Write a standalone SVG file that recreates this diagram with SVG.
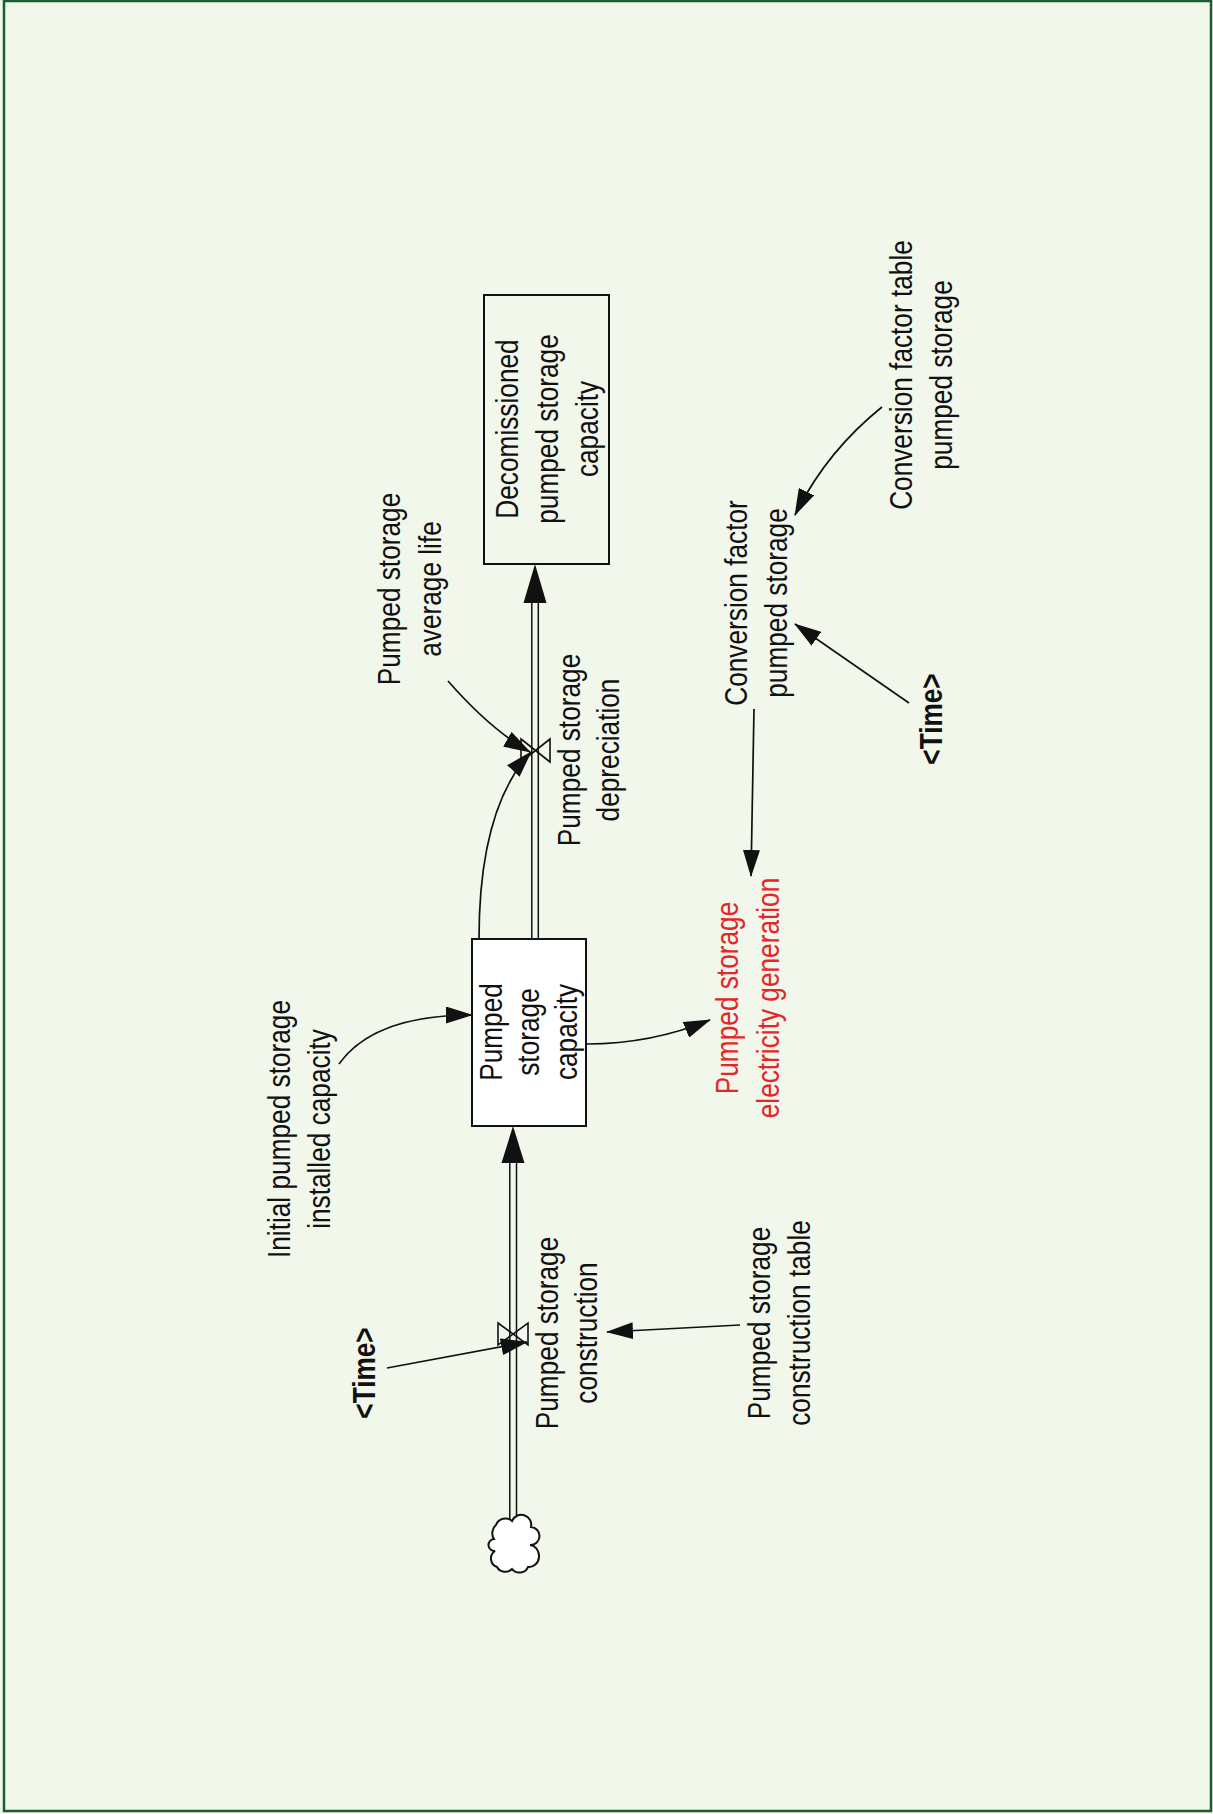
<svg xmlns="http://www.w3.org/2000/svg" width="1213" height="1814" viewBox="0 0 1213 1814">
<defs>
<style>
.t{font-family:"Liberation Sans",Arial,sans-serif;font-size:32px;fill:#111;text-anchor:middle}
.b{font-weight:bold}
.red{fill:#e62626}
.box{stroke:#111;stroke-width:2}
.pipe{stroke:#111;stroke-width:1.5;fill:none}
.valve{stroke:#111;stroke-width:1.6;fill:none}
.link{stroke:#111;stroke-width:1.7;fill:none;marker-end:url(#ah)}
</style>
<marker id="ah" viewBox="0 0 27 17" refX="26" refY="8.5" markerWidth="27" markerHeight="17" markerUnits="userSpaceOnUse" orient="auto">
<path d="M0,0 L27,8.5 L0,17 Z" fill="#111"/>
</marker>
</defs>
<rect x="0" y="0" width="1213" height="1814" fill="#f2f7ec"/>
<rect x="4" y="1" width="1207" height="1810" fill="none" stroke="#1a5e30" stroke-width="2.5"/>

<g id="flows">
<!-- construction pipe -->
<line class="pipe" x1="509.8" y1="1160" x2="509.8" y2="1519"/>
<line class="pipe" x1="516.5" y1="1160" x2="516.5" y2="1519"/>
<polygon points="513,1126 501.5,1163 524.5,1163" fill="#111"/>
<!-- depreciation pipe -->
<line class="pipe" x1="531.8" y1="600" x2="531.8" y2="939"/>
<line class="pipe" x1="538.3" y1="600" x2="538.3" y2="939"/>
<polygon points="535,564 523.5,603 546.5,603" fill="#111"/>
</g>

<g id="cloud">
<path d="M512,1521 A10,10 0 0 1 531,1527 A9,9 0 0 1 530,1545 A10,11 0 0 1 528,1567 A9,8 0 0 1 512,1569 A9,8 0 0 1 497,1567 A9,9 0 0 1 495,1551 A5,5 0 0 1 494,1539 A9,10 0 0 1 496,1525 A10,10 0 0 1 512,1521 Z" fill="#fff" stroke="#111" stroke-width="2"/>
</g>

<g id="decomissioned">
<rect class="box" x="484" y="295" width="125" height="269" fill="none"/>
<g transform="translate(518,429) rotate(-90) scale(0.82,1)">
<text class="t" x="0" y="0">Decomissioned</text>
<text class="t" x="0" y="40">pumped storage</text>
<text class="t" x="0" y="80">capacity</text>
</g>
</g>

<g id="pumped-storage-capacity">
<rect class="box" x="472" y="939" width="114" height="187" fill="#fff"/>
<g transform="translate(502,1032) rotate(-90) scale(0.82,1)">
<text class="t" x="0" y="0">Pumped</text>
<text class="t" x="0" y="37.5">storage</text>
<text class="t" x="0" y="75">capacity</text>
</g>
</g>

<g id="pumped-storage-depreciation">
<polygon class="valve" points="521,739 550,762 550,739 521,762"/>
<g transform="translate(580,750) rotate(-90) scale(0.82,1)">
<text class="t" x="0" y="0">Pumped storage</text>
<text class="t" x="0" y="39">depreciation</text>
</g>
</g>

<g id="pumped-storage-construction">
<polygon class="valve" points="498,1323 528,1345 528,1323 498,1345"/>
<g transform="translate(558,1333) rotate(-90) scale(0.82,1)">
<text class="t" x="0" y="0">Pumped storage</text>
<text class="t" x="0" y="39">construction</text>
</g>
</g>

<g id="average-life">
<g transform="translate(400,589) rotate(-90) scale(0.82,1)">
<text class="t" x="0" y="0">Pumped storage</text>
<text class="t" x="0" y="41">average life</text>
</g>
</g>

<g id="initial-capacity">
<g transform="translate(290,1129) rotate(-90) scale(0.82,1)">
<text class="t" x="0" y="0">Initial pumped storage</text>
<text class="t" x="0" y="40">installed capacity</text>
</g>
</g>

<g id="electricity-generation">
<g transform="translate(738,998) rotate(-90) scale(0.82,1)">
<text class="t red" x="0" y="0">Pumped storage</text>
<text class="t red" x="0" y="41">electricity generation</text>
</g>
</g>

<g id="conversion-factor">
<g transform="translate(747,603) rotate(-90) scale(0.82,1)">
<text class="t" x="0" y="0">Conversion factor</text>
<text class="t" x="0" y="40">pumped storage</text>
</g>
</g>

<g id="conversion-factor-table">
<g transform="translate(912,375) rotate(-90) scale(0.82,1)">
<text class="t" x="0" y="0">Conversion factor table</text>
<text class="t" x="0" y="40">pumped storage</text>
</g>
</g>

<g id="construction-table">
<g transform="translate(770,1323) rotate(-90) scale(0.82,1)">
<text class="t" x="0" y="0">Pumped storage</text>
<text class="t" x="0" y="40">construction table</text>
</g>
</g>

<g id="time-1">
<g transform="translate(942,719) rotate(-90) scale(0.82,1)">
<text class="t b" x="0" y="0">&lt;Time&gt;</text>
</g>
</g>

<g id="time-2">
<g transform="translate(375,1373) rotate(-90) scale(0.82,1)">
<text class="t b" x="0" y="0">&lt;Time&gt;</text>
</g>
</g>

<g id="connectors">
<path class="link" d="M339,1064 Q374,1015 472,1015"/>
<path class="link" d="M587,1044 Q651,1044 710,1020"/>
<path class="link" d="M479,939 Q479,808 531,752"/>
<path class="link" d="M448,681 Q491,730 530,752"/>
<path class="link" d="M387,1368 L527,1342"/>
<path class="link" d="M740,1325 L607,1332"/>
<path class="link" d="M882,407 Q826,452 795,515"/>
<path class="link" d="M909,703 L795,624"/>
<path class="link" d="M754,709 L751,876"/>
</g>
</svg>
